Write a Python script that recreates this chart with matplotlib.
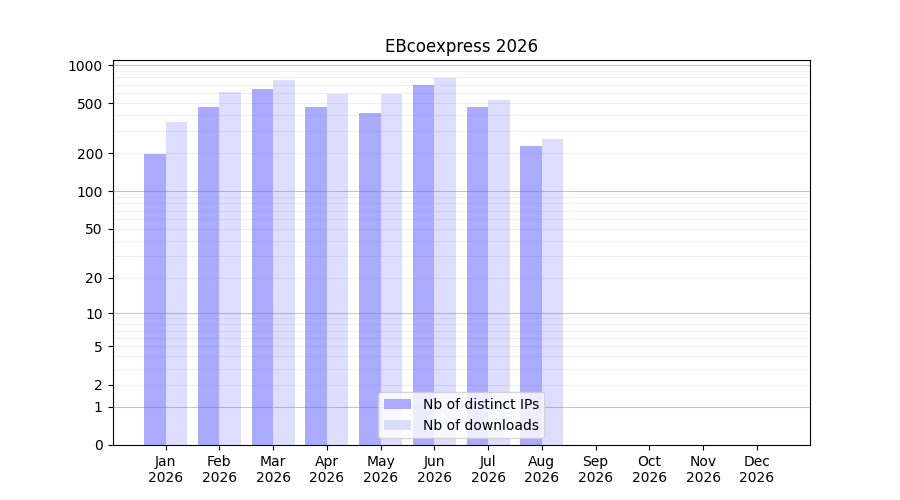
import numpy as np
import matplotlib
matplotlib.use("Agg")
import matplotlib.pyplot as plt
from matplotlib.ticker import FixedLocator, NullFormatter

months = ["Jan", "Feb", "Mar", "Apr", "May", "Jun", "Jul", "Aug",
          "Sep", "Oct", "Nov", "Dec"]
year = 2026
distinct_ips = [198, 465, 645, 465, 417, 693, 465, 228]
downloads = [354, 610, 760, 589, 589, 788, 528, 259]


def fwd(y):
    return np.log10(np.clip(y, 0, None) + 1)


def inv(y):
    return 10 ** y - 1


fig, ax = plt.subplots(figsize=(9, 5), dpi=100)
x = np.arange(len(months))

ax.bar(x[:len(distinct_ips)], distinct_ips, width=-0.4, align="edge",
       color="#aaaaff", label="Nb of distinct IPs")
ax.bar(x[:len(downloads)], downloads, width=0.4, align="edge",
       color="#ddddff", label="Nb of downloads")

ax.set_yscale("function", functions=(fwd, inv))
ax.set_ylim(0, 1096)
ax.set_xlim(-0.99, 11.99)

ax.yaxis.set_major_locator(FixedLocator([0, 1, 2, 5, 10, 20, 50, 100, 200, 500, 1000]))
ax.set_yticklabels(["0", "1", "2", "5", "10", "20", "50", "100", "200", "500", "1000"])
minor = [m * d for d in (1, 10, 100) for m in range(2, 10)]
ax.yaxis.set_minor_locator(FixedLocator(minor))
ax.yaxis.set_minor_formatter(NullFormatter())
ax.tick_params(axis="y", which="minor", length=0)

ax.set_axisbelow(False)
for v in (1, 10, 100, 1000):
    ax.axhline(v, color="0.5", alpha=0.45, linewidth=0.8, zorder=3)
for v in minor:
    ax.axhline(v, color="0.5", alpha=0.12, linewidth=0.8, zorder=3)

ax.set_xticks(x)
ax.set_xticklabels([f"{m}\n{year}" for m in months])
ax.set_title(f"EBcoexpress {year}")
ax.legend(loc="lower center")

plt.savefig("out.png")
